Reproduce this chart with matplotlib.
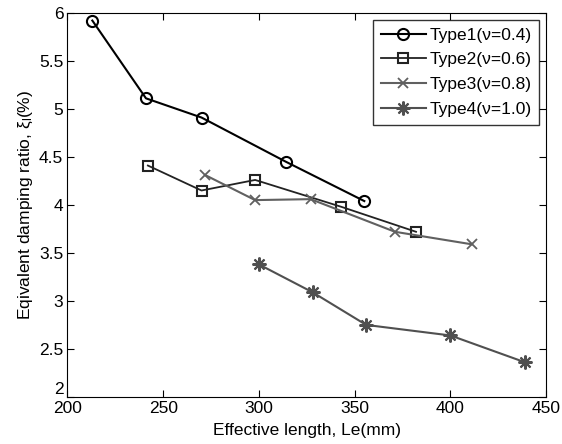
import matplotlib
matplotlib.use("Agg")
import matplotlib.pyplot as plt

plt.rcParams['font.family'] = ['Liberation Sans', 'DejaVu Sans']
plt.rcParams['mathtext.fontset'] = 'custom'
plt.rcParams['mathtext.rm'] = 'Liberation Sans'
plt.rcParams['mathtext.it'] = 'Liberation Sans'

# 数据
x1 = [213, 241, 270, 314, 355]
y1 = [5.92, 5.11, 4.91, 4.45, 4.04]
x2 = [242, 270, 298, 343, 382]
y2 = [4.41, 4.15, 4.26, 3.98, 3.72]
x3 = [272, 298, 327, 371, 411]
y3 = [4.31, 4.05, 4.06, 3.72, 3.59]
x4 = [300, 328, 356, 400, 439]
y4 = [3.38, 3.09, 2.75, 2.64, 2.36]
labels = ['Type1(ν=0.4)', 'Type2(ν=0.6)', 'Type3(ν=0.8)', 'Type4(ν=1.0)']

fig = plt.figure(figsize=(5.62, 4.44), dpi=100)
ax = fig.add_axes([0.12, 0.106, 0.852, 0.865])

ax.plot(x1, y1, '-o', color='black', lw=1.5, ms=8, mfc='none', mew=1.5, label=labels[0])
ax.plot(x2, y2, '-s', color='#222222', lw=1.3, ms=7, mfc='none', mew=1.5, label=labels[1])
ax.plot(x3, y3, '-x', color='#606060', lw=1.5, ms=7, mew=1.3, label=labels[2])
ax.plot(x4, y4, '-', color='#505050', lw=1.5, marker=(8, 2, 0), ms=10, mew=1.5, label=labels[3])

ax.set_xlim(200, 450)
ax.set_ylim(2, 6)
ax.set_xticks([200, 250, 300, 350, 400, 450])
ax.set_yticks([2, 2.5, 3, 3.5, 4, 4.5, 5, 5.5, 6])
ax.set_yticklabels(['2', '2.5', '3', '3.5', '4', '4.5', '5', '5.5', '6'])
ax.get_yticklabels()[0].set_va('bottom')  # 底部的"2"稍微上移
ax.tick_params(direction='in', top=True, right=True, labelsize=12.5, length=5, pad=3)
ax.set_xlabel('Effective length, Le(mm)', fontsize=12.5, labelpad=5)
ax.set_ylabel('Eqivalent damping ratio, $\\xi_l$(%)', fontsize=12.5, labelpad=3)

leg = ax.legend(loc='upper right', fontsize=12.5, frameon=True, fancybox=False,
                edgecolor='black', handlelength=2.6, borderaxespad=0.4,
                labelspacing=0.55, handletextpad=0.2, borderpad=0.45)
leg.get_frame().set_linewidth(1.0)

plt.savefig('out.png', dpi=100)
